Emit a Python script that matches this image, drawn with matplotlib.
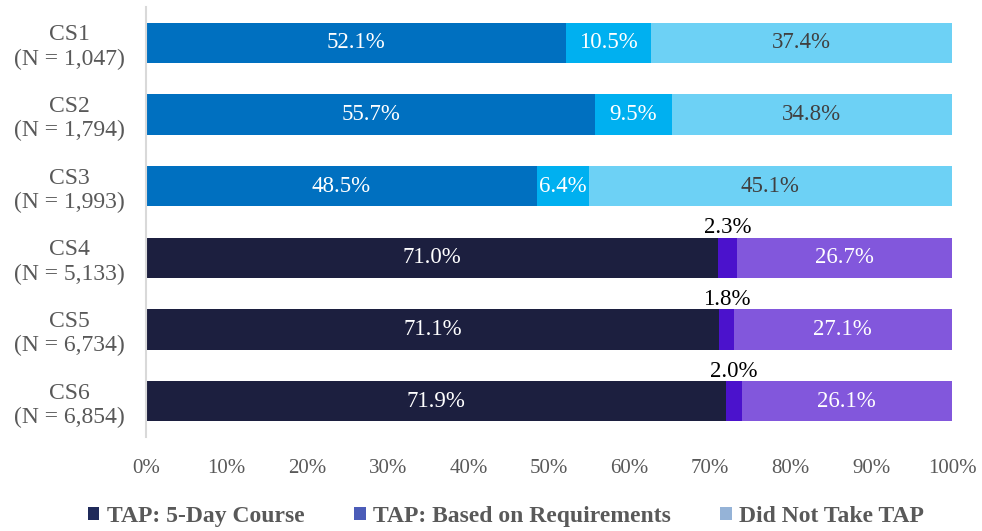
import matplotlib
matplotlib.use("Agg")
import matplotlib.pyplot as plt
from matplotlib.patches import Patch
import numpy as np

categories = ["CS1", "CS2", "CS3", "CS4", "CS5", "CS6"]
sample_sizes = ["1,047", "1,794", "1,993", "5,133", "6,734", "6,854"]
five_day = [52.1, 55.7, 48.5, 71.0, 71.1, 71.9]
based_on_req = [10.5, 9.5, 6.4, 2.3, 1.8, 2.0]
did_not_take = [37.4, 34.8, 45.1, 26.7, 27.1, 26.1]
series_names = ["TAP: 5-Day Course", "TAP: Based on Requirements", "Did Not Take TAP"]
legend_colors = ["#1F2A5A", "#4B5CB8", "#95B3D7"]

# first three rows use the blue palette, the last three the navy/purple one
blue_set = ["#0070C0", "#00B0F0", "#6DD1F5"]
purple_set = ["#1C1F3F", "#4B12CC", "#8257DC"]

plt.rcParams["font.family"] = ["Liberation Serif", "DejaVu Serif"]
grey = "#595959"

fig = plt.figure(figsize=(9.82, 5.31), dpi=100)
ax = fig.add_axes([0.1487, 0.177, 0.8208, 0.8098])

y = np.arange(len(categories))
series = [five_day, based_on_req, did_not_take]
left = np.zeros(len(categories))
for k, vals in enumerate(series):
    vals = np.array(vals)
    colors = [blue_set[k] if i < 3 else purple_set[k] for i in range(len(categories))]
    ax.barh(y, vals, left=left, height=0.56, color=colors)
    for i, v in enumerate(vals):
        cx = left[i] + v / 2
        label = f"{v:.1f}%"
        if k == 1 and i >= 3:
            ax.text(cx, y[i] - 0.27, label, ha="center", va="bottom",
                    fontsize=16.5, color="black")
        else:
            col = "#404040" if (k == 2 and i < 3) else "white"
            ax.text(cx, y[i], label, ha="center", va="center",
                    fontsize=16.5, color=col)
    left += vals

ax.set_xlim(0, 100)
ax.set_ylim(len(categories) - 0.5, -0.5)
ax.set_yticks(y)
ax.set_yticklabels([f"{c}\n(N = {n})" for c, n in zip(categories, sample_sizes)],
                   fontsize=17, color=grey, linespacing=1.2)
for lab in ax.get_yticklabels():
    lab.set_multialignment("center")
ax.set_xticks(np.arange(0, 101, 10))
ax.set_xticklabels([f"{t}%" for t in range(0, 101, 10)], fontsize=15, color=grey)
ax.tick_params(length=0)
ax.tick_params(axis="x", pad=16)
ax.tick_params(axis="y", pad=15)
for s in ["top", "right", "bottom"]:
    ax.spines[s].set_visible(False)
ax.spines["left"].set_color("#D9D9D9")
ax.spines["left"].set_linewidth(1.5)

handles = [Patch(facecolor=c) for c in legend_colors]
fig.legend(handles, series_names, loc="center", bbox_to_anchor=(0.515, 0.028),
           ncol=3, frameon=False, handlelength=0.5, handleheight=0.5,
           handletextpad=0.3, columnspacing=2.1,
           prop={"size": 17, "weight": "bold"}, labelcolor=grey)

fig.savefig("out.png", dpi=100)
